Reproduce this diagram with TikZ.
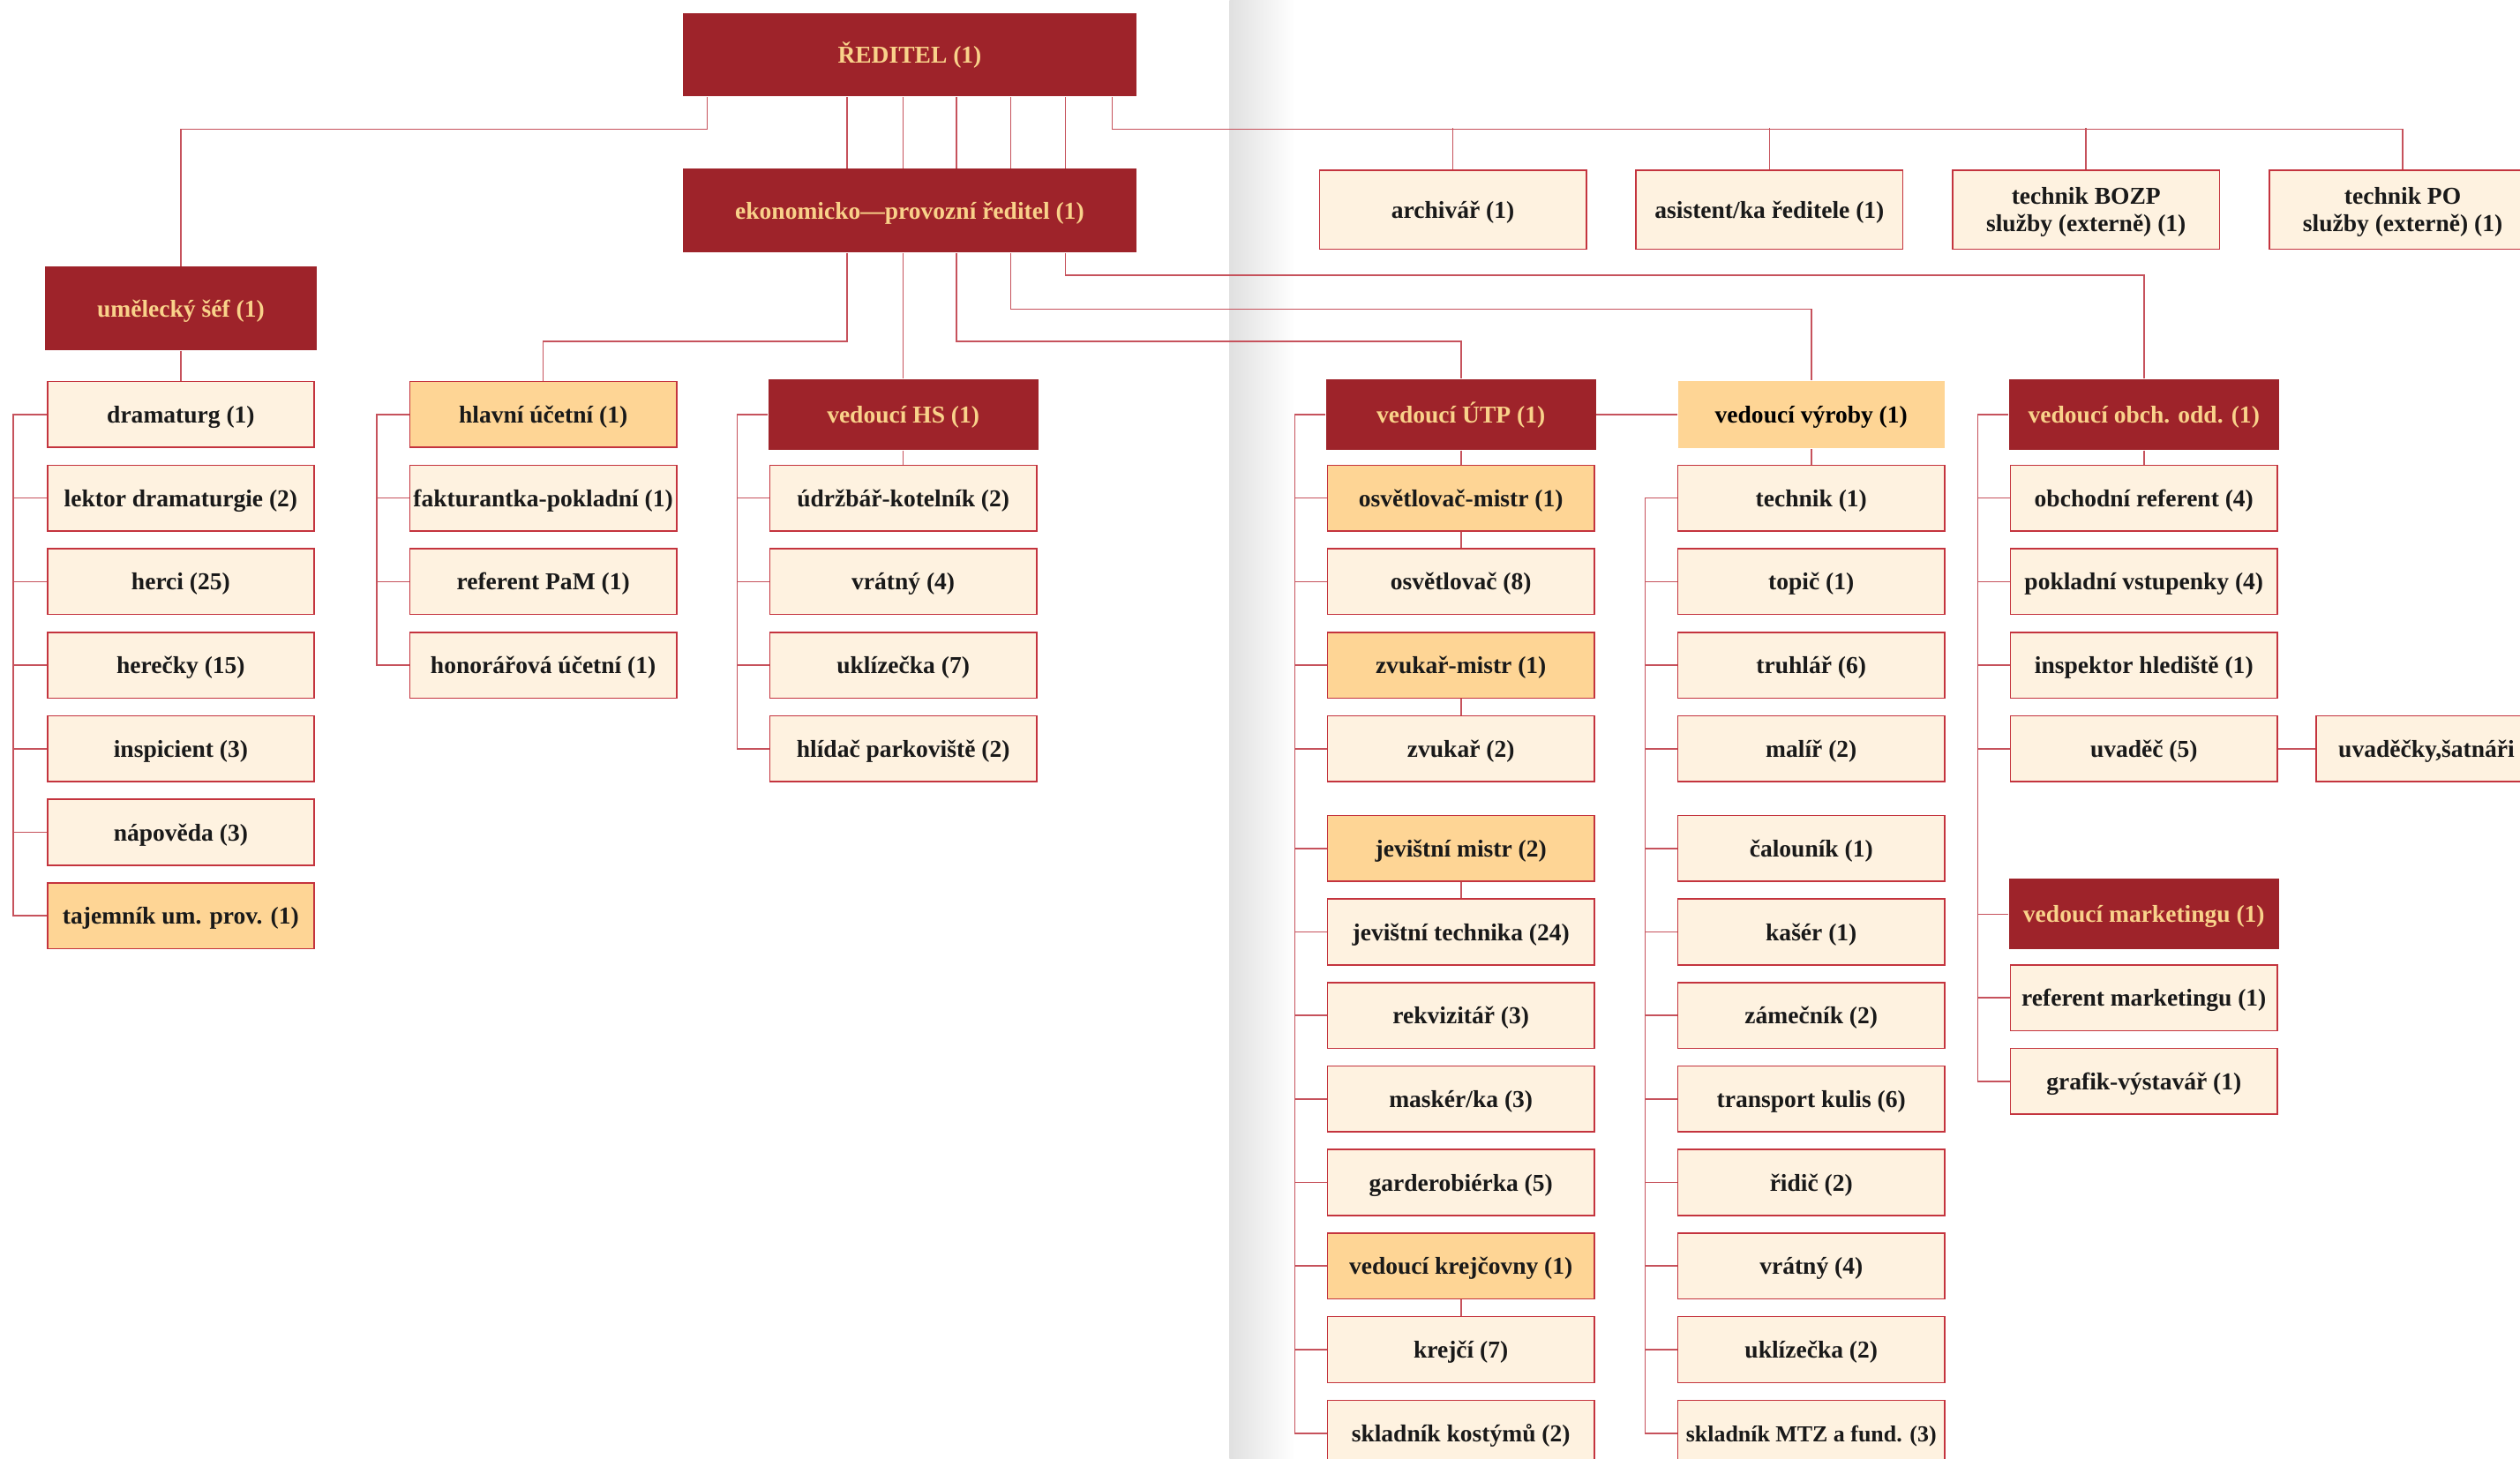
\documentclass[tikz,border=0pt]{standalone}
\usepackage{fontspec}
\setmainfont{Liberation Serif}
\usetikzlibrary{calc}

\definecolor{headred}{RGB}{158,35,42}
\definecolor{headtext}{RGB}{249,210,138}
\definecolor{mastfill}{RGB}{254,213,149}
\definecolor{stafffill}{RGB}{254,242,224}
\definecolor{boxline}{RGB}{196,52,62}
\definecolor{linkline}{RGB}{198,82,92}

\begin{document}
\begin{tikzpicture}[x=0.02cm, y=-0.02cm]
    % Define styles
    \tikzset{
        base/.style={rectangle, inner sep=0pt, align=center, text height=0.75em, text depth=0.15em, font=\bfseries\fontsize{8.6}{9.8}\selectfont},
        head/.style={base, fill=headred, text=headtext, minimum width=3.36cm, minimum height=0.88cm},
        staff/.style={base, draw=boxline, line width=0.5pt, fill=stafffill, text=black!90, minimum width=3.32cm, minimum height=0.82cm},
        master/.style={staff, fill=mastfill},
        topbox/.style={staff, minimum height=0.98cm},
        twoline/.style={topbox, text height=1.9em, text depth=0.35em},
        link/.style={draw=linkline, line width=0.5pt}
    }
    \useasboundingbox (0,0) rectangle (1568,908);

    % Page gutter
    \shade[left color=black!12, right color=white] (765,0) rectangle (806,908);

    % Directors
    \node[head, minimum width=5.64cm, minimum height=1.04cm] (reditel) at (566,34) {ŘEDITEL (1)};
    \node[head, minimum width=5.64cm, minimum height=1.04cm] (ekon) at (566,131) {ekonomicko—provozní ředitel (1)};
    \node[head, minimum width=3.38cm, minimum height=1.04cm] (umel) at (112.5,192) {umělecký šéf (1)};

    % Staff of the director
    \node[topbox] (archiv) at (904,130.5) {archivář (1)};
    \node[topbox] (asist) at (1101,130.5) {asistent/ka ředitele (1)};
    \node[twoline] (bozp) at (1298,130.5) {technik BOZP\\služby (externě) (1)};
    \node[twoline] (po) at (1495,130.5) {technik PO\\služby (externě) (1)};

    % Column 1: artistic
    \node[staff] (dram) at (112.5,258) {dramaturg (1)};
    \node[staff] (lektor) at (112.5,310) {lektor dramaturgie (2)};
    \node[staff] (herci) at (112.5,362) {herci (25)};
    \node[staff] (herecky) at (112.5,414) {herečky (15)};
    \node[staff] (inspic) at (112.5,466) {inspicient (3)};
    \node[staff] (napov) at (112.5,518) {nápověda (3)};
    \node[master] (tajem) at (112.5,570) {tajemník um. prov. (1)};

    % Column 2: accounting
    \node[master] (hlucet) at (338,258) {hlavní účetní (1)};
    \node[staff] (faktur) at (338,310) {fakturantka-pokladní (1)};
    \node[staff] (pam) at (338,362) {referent PaM (1)};
    \node[staff] (honor) at (338,414) {honorářová účetní (1)};

    % Column 3: HS
    \node[head] (hs) at (562,258) {vedoucí HS (1)};
    \node[staff] (udrz) at (562,310) {údržbář-kotelník (2)};
    \node[staff] (vrat) at (562,362) {vrátný (4)};
    \node[staff] (uklid) at (562,414) {uklízečka (7)};
    \node[staff] (hlidac) at (562,466) {hlídač parkoviště (2)};

    % Column 4: UTP
    \node[head] (utp) at (909,258) {vedoucí ÚTP (1)};
    \node[master] (osvm) at (909,310) {osvětlovač-mistr (1)};
    \node[staff] (osv) at (909,362) {osvětlovač (8)};
    \node[master] (zvukm) at (909,414) {zvukař-mistr (1)};
    \node[staff] (zvuk) at (909,466) {zvukař (2)};
    \node[master] (jevm) at (909,528) {jevištní mistr (2)};
    \node[staff] (jevt) at (909,580) {jevištní technika (24)};
    \node[staff] (rekv) at (909,632) {rekvizitář (3)};
    \node[staff] (mask) at (909,684) {maskér/ka (3)};
    \node[staff] (garde) at (909,736) {garderobiérka (5)};
    \node[master] (krejm) at (909,788) {vedoucí krejčovny (1)};
    \node[staff] (krej) at (909,840) {krejčí (7)};
    \node[staff] (sklk) at (909,892) {skladník kostýmů (2)};

    % Column 5: production
    \node[base, fill=mastfill, minimum width=3.32cm, minimum height=0.84cm] (vyroby) at (1127,258) {vedoucí výroby (1)};
    \node[staff] (technik) at (1127,310) {technik (1)};
    \node[staff] (topic) at (1127,362) {topič (1)};
    \node[staff] (truhl) at (1127,414) {truhlář (6)};
    \node[staff] (malir) at (1127,466) {malíř (2)};
    \node[staff] (calou) at (1127,528) {čalouník (1)};
    \node[staff] (kaser) at (1127,580) {kašér (1)};
    \node[staff] (zamec) at (1127,632) {zámečník (2)};
    \node[staff] (transp) at (1127,684) {transport kulis (6)};
    \node[staff] (ridic) at (1127,736) {řidič (2)};
    \node[staff] (vrat2) at (1127,788) {vrátný (4)};
    \node[staff] (uklid2) at (1127,840) {uklízečka (2)};
    \node[staff, font=\bfseries\fontsize{8.1}{9.8}\selectfont] (sklmtz) at (1127,892) {skladník MTZ a fund. (3)};

    % Column 6: sales and marketing
    \node[head] (obch) at (1334,258) {vedoucí obch. odd. (1)};
    \node[staff] (obref) at (1334,310) {obchodní referent (4)};
    \node[staff] (poklad) at (1334,362) {pokladní vstupenky (4)};
    \node[staff] (inspek) at (1334,414) {inspektor hlediště (1)};
    \node[staff] (uvadec) at (1334,466) {uvaděč (5)};
    \node[staff, text width=2.76cm, inner xsep=0.28cm, align=left] (uvadky) at (1524,466) {uvaděčky,šatnáři};
    \node[head] (mark) at (1334,569) {vedoucí marketingu (1)};
    \node[staff] (refmark) at (1334,621) {referent marketingu (1)};
    \node[staff] (grafik) at (1334,673) {grafik-výstavář (1)};

    % Director links
    \draw[link] ($(reditel.south)+(-126,0)$) -- ++(0,20) -| (umel.north);
    \draw[link] ($(reditel.south)+(126,0)$) -- ++(0,20) -| (po.north);
    \foreach \n in {archiv,asist,bozp}
        \draw[link] (\n.north) -- ++(0,-26);
    \foreach \dx in {-39,-4,29,63,97}
        \draw[link] ($(reditel.south)+(\dx,0)$) -- ($(ekon.north)+(\dx,0)$);

    % Economic director links
    \draw[link] ($(ekon.south)+(-39,0)$) -- ++(0,55) -| (hlucet.north);
    \draw[link] ($(ekon.south)+(-4,0)$) -- (hs.north);
    \draw[link] ($(ekon.south)+(29,0)$) -- ++(0,55) -| (utp.north);
    \draw[link] ($(ekon.south)+(63,0)$) -- ++(0,35) -| (vyroby.north);
    \draw[link] ($(ekon.south)+(97,0)$) -- ++(0,14) -| (obch.north);

    % Vertical links
    \foreach \a/\b in {umel/dram, hs/udrz, utp/osvm, osvm/osv, zvukm/zvuk, jevm/jevt, krejm/krej, vyroby/technik, obch/obref}
        \draw[link] (\a.south) -- (\b.north);
    \draw[link] (utp.east) -- (vyroby.west);
    \draw[link] (uvadec.east) -- (uvadky.west);

    % Side buses
    \draw[link] (dram.west) -- ++(-21,0) |- (tajem.west);
    \draw[link] (hlucet.west) -- ++(-20,0) |- (honor.west);
    \draw[link] (hs.west) -- ++(-19,0) |- (hlidac.west);
    \draw[link] (utp.west) -- ++(-19,0) |- (sklk.west);
    \draw[link] (technik.west) -- ++(-20,0) |- (sklmtz.west);
    \draw[link] (obch.west) -- ++(-19,0) |- (grafik.west);
    \foreach \n in {lektor,herci,herecky,inspic,napov}
        \draw[link] (\n.west) -- ++(-21,0);
    \foreach \n in {faktur,pam,udrz,vrat,uklid,
                    osvm,osv,zvukm,zvuk,jevm,jevt,rekv,mask,garde,krejm,krej,
                    topic,truhl,malir,calou,kaser,zamec,transp,ridic,vrat2,uklid2,
                    obref,poklad,inspek,uvadec,refmark}
        \draw[link] (\n.west) -- ++(-20,0);
    \draw[link] (mark.west) -- ++(-19,0);

\end{tikzpicture}
\end{document}
